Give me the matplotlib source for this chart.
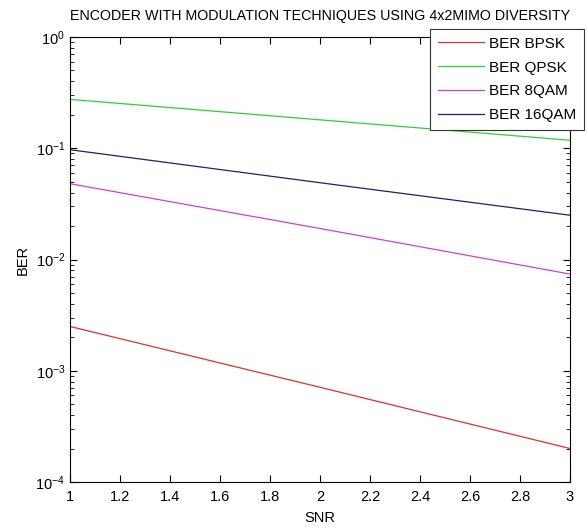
import matplotlib
matplotlib.use("Agg")
import matplotlib.pyplot as plt
from matplotlib.ticker import LogLocator, NullFormatter

plt.rcParams['font.family'] = ['Liberation Sans', 'DejaVu Sans']
plt.rcParams['mathtext.fontset'] = 'custom'
plt.rcParams['mathtext.rm'] = 'Liberation Sans'

# SNR values and BER
snr = [1, 2, 3]
ber_bpsk = [2.5e-3, 7.1e-4, 2.0e-4]
ber_qpsk = [0.275, 0.18, 0.118]
ber_8qam = [0.048, 0.019, 0.0074]
ber_16qam = [0.097, 0.049, 0.025]

labels = ["BER BPSK", "BER QPSK", "BER 8QAM", "BER 16QAM"]
colors = ["#e03030", "#30d030", "#d040d0", "#202068"]

fig = plt.figure(figsize=(5.88, 5.30), dpi=100)
ax = fig.add_axes([70 / 588, 48 / 530, 500 / 588, 445 / 530])

for vals, lab, col in zip([ber_bpsk, ber_qpsk, ber_8qam, ber_16qam], labels, colors):
    ax.semilogy(snr, vals, color=col, linewidth=0.9, label=lab)

ax.set_xlim(1, 3)
ax.set_ylim(1e-4, 1)
ax.set_xticks([1, 1.2, 1.4, 1.6, 1.8, 2, 2.2, 2.4, 2.6, 2.8, 3])
ax.set_xticklabels(["1", "1.2", "1.4", "1.6", "1.8", "2", "2.2", "2.4", "2.6", "2.8", "3"])
ax.yaxis.set_major_locator(LogLocator(base=10, numticks=10))
ax.yaxis.set_minor_locator(LogLocator(base=10, subs=range(2, 10), numticks=10))
ax.yaxis.set_minor_formatter(NullFormatter())
ax.tick_params(which="both", direction="in", top=True, right=True, labelsize=10.5, colors="black")
ax.tick_params(which="major", length=5, width=0.8)
ax.tick_params(which="minor", length=3, width=0.6)
ax.tick_params(axis="x", pad=6)
for sp in ax.spines.values():
    sp.set_linewidth(0.8)

ax.set_xlabel("SNR", fontsize=10.5, labelpad=5)
ax.set_ylabel("BER", fontsize=10.5, labelpad=4)
ax.set_title("ENCODER WITH MODULATION TECHNIQUES USING 4x2MIMO DIVERSITY", fontsize=10.3, pad=12)

leg = fig.legend(loc="upper right", bbox_to_anchor=(584 / 588, 1 - 29 / 530),
                 fontsize=11, handlelength=3.0, handletextpad=0.35, labelspacing=0.65,
                 borderpad=0.5, borderaxespad=0, fancybox=False, framealpha=1,
                 edgecolor="#333333")
leg.get_frame().set_linewidth(0.8)

fig.savefig("out.png", dpi=100)
